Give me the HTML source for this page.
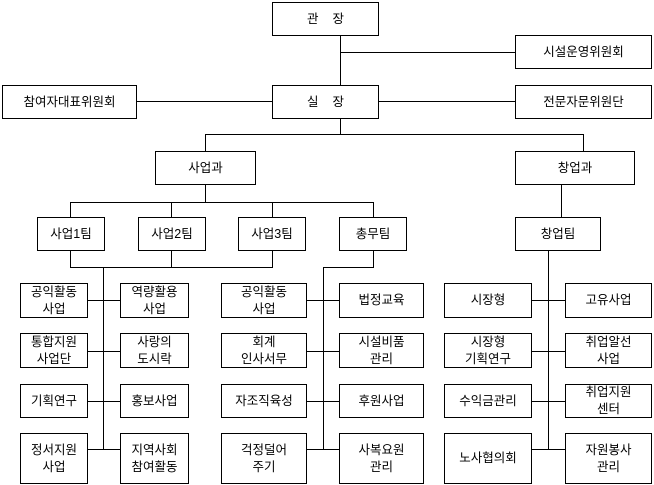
<!DOCTYPE html>
<html><head><meta charset="utf-8"><style>
body{margin:0;width:654px;height:485px;background:#fff;position:relative;overflow:hidden;font-family:"Liberation Sans","Noto Sans CJK KR",sans-serif;}
.b{position:absolute;box-sizing:border-box;border:1px solid #000;background:#fff;display:flex;align-items:center;justify-content:center;text-align:center;font-size:12.5px;line-height:17px;color:#000;}
svg{position:absolute;left:0;top:0}
</style></head><body>
<svg width="654" height="485" stroke="#000" stroke-width="1" fill="none" shape-rendering="crispEdges">
<line x1="340.5" y1="35" x2="340.5" y2="85"/>
<line x1="340" y1="52.5" x2="515" y2="52.5"/>
<line x1="136" y1="101.5" x2="272" y2="101.5"/>
<line x1="378" y1="101.5" x2="515" y2="101.5"/>
<line x1="340.5" y1="118" x2="340.5" y2="134"/>
<line x1="205" y1="134.5" x2="584" y2="134.5"/>
<line x1="205.5" y1="134" x2="205.5" y2="151"/>
<line x1="583.5" y1="134" x2="583.5" y2="151"/>
<line x1="205.5" y1="184" x2="205.5" y2="202"/>
<line x1="70" y1="202.5" x2="374" y2="202.5"/>
<line x1="70.5" y1="202" x2="70.5" y2="217"/>
<line x1="171.5" y1="202" x2="171.5" y2="217"/>
<line x1="272.5" y1="202" x2="272.5" y2="217"/>
<line x1="373.5" y1="202" x2="373.5" y2="217"/>
<line x1="561.5" y1="184" x2="561.5" y2="217"/>
<line x1="70.5" y1="250" x2="70.5" y2="267"/>
<line x1="171.5" y1="250" x2="171.5" y2="267"/>
<line x1="272.5" y1="250" x2="272.5" y2="267"/>
<line x1="70" y1="267.5" x2="273" y2="267.5"/>
<line x1="103.5" y1="267" x2="103.5" y2="450"/>
<line x1="373.5" y1="250" x2="373.5" y2="267"/>
<line x1="323" y1="267.5" x2="374" y2="267.5"/>
<line x1="323.5" y1="267" x2="323.5" y2="450"/>
<line x1="548.5" y1="250" x2="548.5" y2="450"/>
<line x1="87" y1="300.5" x2="120" y2="300.5"/>
<line x1="87" y1="351.5" x2="120" y2="351.5"/>
<line x1="87" y1="401.5" x2="120" y2="401.5"/>
<line x1="87" y1="449.5" x2="120" y2="449.5"/>
<line x1="306" y1="300.5" x2="339" y2="300.5"/>
<line x1="306" y1="351.5" x2="339" y2="351.5"/>
<line x1="306" y1="401.5" x2="339" y2="401.5"/>
<line x1="306" y1="449.5" x2="339" y2="449.5"/>
<line x1="531" y1="300.5" x2="565" y2="300.5"/>
<line x1="531" y1="351.5" x2="565" y2="351.5"/>
<line x1="531" y1="401.5" x2="565" y2="401.5"/>
<line x1="531" y1="449.5" x2="565" y2="449.5"/>
</svg>
<div class="b" style="left:272px;top:2px;width:107px;height:34px">관&nbsp;&nbsp;&nbsp;&nbsp;장</div>
<div class="b" style="left:515px;top:35px;width:137px;height:34px">시설운영위원회</div>
<div class="b" style="left:2px;top:85px;width:135px;height:34px">참여자대표위원회</div>
<div class="b" style="left:272px;top:85px;width:107px;height:34px">실&nbsp;&nbsp;&nbsp;&nbsp;장</div>
<div class="b" style="left:515px;top:85px;width:137px;height:34px">전문자문위원단</div>
<div class="b" style="left:155px;top:151px;width:101px;height:34px">사업과</div>
<div class="b" style="left:515px;top:151px;width:120px;height:34px">창업과</div>
<div class="b" style="left:37px;top:217px;width:68px;height:34px">사업1팀</div>
<div class="b" style="left:138px;top:217px;width:68px;height:34px">사업2팀</div>
<div class="b" style="left:238px;top:217px;width:68px;height:34px">사업3팀</div>
<div class="b" style="left:339px;top:217px;width:68px;height:34px">총무팀</div>
<div class="b" style="left:515px;top:217px;width:86px;height:34px">창업팀</div>

<div class="b" style="left:20px;top:283px;width:68px;height:35px">공익활동<br>사업</div>
<div class="b" style="left:120px;top:283px;width:69px;height:35px">역량활용<br>사업</div>
<div class="b" style="left:20px;top:333px;width:68px;height:35px">통합지원<br>사업단</div>
<div class="b" style="left:120px;top:333px;width:69px;height:35px">사랑의<br>도시락</div>
<div class="b" style="left:20px;top:384px;width:68px;height:34px">기획연구</div>
<div class="b" style="left:120px;top:384px;width:69px;height:34px">홍보사업</div>
<div class="b" style="left:20px;top:433px;width:68px;height:51px">정서지원<br>사업</div>
<div class="b" style="left:120px;top:433px;width:69px;height:51px">지역사회<br>참여활동</div>

<div class="b" style="left:221px;top:283px;width:86px;height:35px">공익활동<br>사업</div>
<div class="b" style="left:339px;top:283px;width:85px;height:35px">법정교육</div>
<div class="b" style="left:221px;top:333px;width:86px;height:35px">회계<br>인사서무</div>
<div class="b" style="left:339px;top:333px;width:85px;height:35px">시설비품<br>관리</div>
<div class="b" style="left:221px;top:384px;width:86px;height:34px">자조직육성</div>
<div class="b" style="left:339px;top:384px;width:85px;height:34px">후원사업</div>
<div class="b" style="left:221px;top:433px;width:86px;height:51px">걱정덜어<br>주기</div>
<div class="b" style="left:339px;top:433px;width:85px;height:51px">사복요원<br>관리</div>

<div class="b" style="left:444px;top:283px;width:88px;height:35px">시장형</div>
<div class="b" style="left:565px;top:283px;width:87px;height:35px">고유사업</div>
<div class="b" style="left:444px;top:333px;width:88px;height:35px">시장형<br>기획연구</div>
<div class="b" style="left:565px;top:333px;width:87px;height:35px">취업알선<br>사업</div>
<div class="b" style="left:444px;top:384px;width:88px;height:34px">수익금관리</div>
<div class="b" style="left:565px;top:384px;width:87px;height:34px">취업지원<br>센터</div>
<div class="b" style="left:444px;top:433px;width:88px;height:51px">노사협의회</div>
<div class="b" style="left:565px;top:433px;width:87px;height:51px">자원봉사<br>관리</div>
</body></html>
